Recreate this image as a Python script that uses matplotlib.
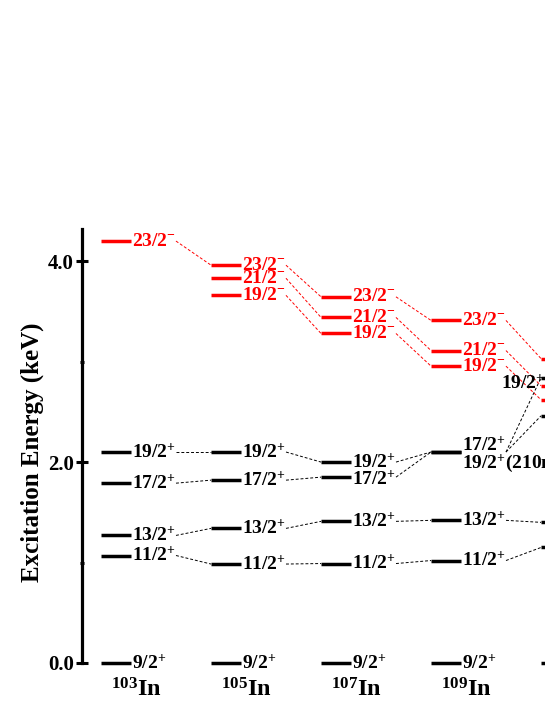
import numpy as np
import matplotlib
matplotlib.use('Agg')
import matplotlib.pyplot as plt

plt.rcParams['font.family'] = 'Liberation Serif'
plt.rcParams['font.weight'] = 'bold'
plt.rcParams['mathtext.fontset'] = 'custom'
plt.rcParams['mathtext.rm'] = 'Liberation Serif:bold'
plt.rcParams['mathtext.it'] = 'Liberation Serif:bold'
plt.rcParams['mathtext.bf'] = 'Liberation Serif:bold'

# level energies (keV axis as labelled), one list per isotope
isotopes = ['103', '105', '107', '109']
spins = ['9/2+', '11/2+', '13/2+', '17/2+', '19/2+', '19/2-', '21/2-', '23/2-']
e_103 = [0.0, 1.07, 1.27, 1.79, 2.10, np.nan, np.nan, 4.20]
e_105 = [0.0, 0.985, 1.34, 1.82, 2.10, 3.66, 3.83, 3.96]
e_107 = [0.0, 0.99, 1.41, 1.85, 2.00, 3.28, 3.44, 3.645]
e_109 = [0.0, 1.02, 1.42, 2.10, 2.10, 2.955, 3.11, 3.41]
e_111 = [0.0, 1.15, 1.40, 2.46, 2.84, 2.62, 2.76, 3.03]
columns = [e_103, e_105, e_107, e_109, e_111]

yticks = [0.0, 2.0, 4.0]
yticklabels = ['0.0', '2.0', '4.0']

LINE_X0 = 0.173   # start of level bar inside a column
LINE_W = 0.27
FS = 14


def spin_label(s):
    return s[:-1] + r'$^{' + s[-1] + '}$'


fig = plt.figure(figsize=(5.45, 7.05), dpi=100)
ax = fig.add_axes([82 / 545, 42 / 705, 463 / 545, 434 / 705])
ax.set_xlim(0, 463 / 110)
ax.set_ylim(0, 4.32)

for sp in ['top', 'right', 'bottom']:
    ax.spines[sp].set_visible(False)
ax.spines['left'].set_linewidth(2.3)
ax.set_xticks([])
ax.set_yticks(yticks)
ax.set_yticklabels(yticklabels, fontsize=15, fontweight='bold')
ax.set_yticks([1.0, 3.0], minor=True)
ax.tick_params(axis='y', which='major', direction='inout', length=8, width=2.2, pad=2)
ax.tick_params(axis='y', which='minor', direction='inout', length=3, width=2.2)
ax.set_ylabel('Excitation Energy (keV)', fontsize=18, fontweight='bold')
ax.yaxis.set_label_coords(-0.082, 0.486)

labels = {}
for i, col in enumerate(columns):
    x0 = i + LINE_X0
    for s, e in zip(spins, col):
        if np.isnan(e):
            continue
        c = 'red' if s.endswith('-') else 'black'
        ax.plot([x0, x0 + LINE_W], [e, e], color=c, lw=2.5,
                solid_capstyle='butt', clip_on=False)
        if i == 4:
            continue
        txt = spin_label(s)
        dy = 0.0
        if i == 3 and s == '17/2+':
            dy = 0.065
        if i == 3 and s == '19/2+':
            dy = -0.11
            txt = txt + '(210ns)'
        if i == 2 and s == '17/2+':
            dy = -0.02
        labels[(i, s)] = ax.text(x0 + LINE_W + 0.012, e + dy, txt, color=c,
                                 fontsize=FS, fontweight='bold', va='center', ha='left')

# 19/2+ of the last column sits to the left of its bar
ax.text(4 + LINE_X0 + 0.036, e_111[4] - 0.06, spin_label('19/2+'), color='black',
        fontsize=FS, fontweight='bold', va='center', ha='right')

for i, iso in enumerate(isotopes):
    ax.text(i + 0.49, -0.27, r'$^{' + iso + '}$In', fontsize=17.5, fontweight='bold',
            ha='center', va='center', clip_on=False)

# dashed links: from end of the label to the next bar
fig.canvas.draw()
r = fig.canvas.get_renderer()
inv = ax.transData.inverted()
for i in range(4):
    for k, s in enumerate(spins):
        if k == 0:
            continue
        e1, e2 = columns[i][k], columns[i + 1][k]
        if np.isnan(e1) or np.isnan(e2):
            continue
        src = '17/2+' if (i == 3 and s == '19/2+') else s
        bb = labels[(i, src)].get_window_extent(r)
        xs = inv.transform((bb.x1, bb.y0))[0]
        c = 'red' if s.endswith('-') else 'black'
        ax.plot([xs, i + 1 + LINE_X0], [e1, e2], color=c, lw=0.7,
                linestyle=(0, (3, 2)))

fig.savefig('out.png', dpi=100)
